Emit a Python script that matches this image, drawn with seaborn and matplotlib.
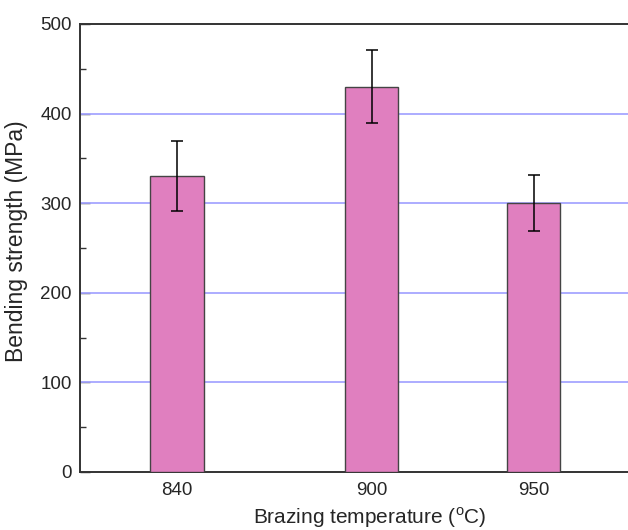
import numpy as np
import pandas as pd
import matplotlib
matplotlib.use('Agg')
import matplotlib.pyplot as plt
import seaborn as sns

# data
temps = [840, 900, 950]
strength = [330, 430, 300]
strength_err = [39, 41, 31]

df = pd.DataFrame({'Temp': temps, 'Strength': strength})

sns.set_style('white')
plt.rcParams['font.family'] = ['Liberation Sans', 'DejaVu Sans']
plt.rcParams['mathtext.fontset'] = 'custom'
plt.rcParams['mathtext.rm'] = 'Liberation Sans'

fig = plt.figure(figsize=(6.28, 5.30), dpi=100, facecolor='white')
# the plot frame runs past the right edge of the picture (cropped original)
ax = fig.add_axes([80 / 628, 58 / 530, 580 / 628, 448 / 530])

# bars at their real temperature (native scale), width 16 degC -> 0.32 of the 50 degC gap
sns.barplot(data=df, x='Temp', y='Strength', native_scale=True, width=0.33,
            color='#e07fbf', saturation=1, edgecolor='#444444', linewidth=1,
            errorbar=None, ax=ax, zorder=3)
ax.errorbar(temps, strength, yerr=strength_err, fmt='none', ecolor='black',
            elinewidth=1.1, capsize=4, capthick=1.1, zorder=4)

ax.set_xlim(810, 989)
ax.set_ylim(0, 500)
ax.set_xticks(temps)
ax.set_xticklabels([str(t) for t in temps])
ax.set_yticks([0, 100, 200, 300, 400, 500])
ax.set_yticks([50, 150, 250, 350, 450], minor=True)

# light blue grid at 100..400
for v in [100, 200, 300, 400]:
    ax.axhline(v, color='#a6a6ff', linewidth=1.3, zorder=1)

ax.tick_params(axis='y', which='major', direction='in', length=7, width=1,
               color='#333333', labelsize=13.5, pad=6, left=True)
ax.tick_params(axis='y', which='minor', direction='in', length=4, width=1,
               color='#333333', left=True)
ax.tick_params(axis='x', length=0, labelsize=13.5, pad=7)

for s in ['left', 'bottom', 'top']:
    ax.spines[s].set_color('#333333')
    ax.spines[s].set_linewidth(1.4)
ax.spines['right'].set_visible(False)

ax.set_xlabel('Brazing temperature ($^{\\mathrm{o}}$C)', fontsize=15, labelpad=5)
ax.set_ylabel('Bending strength (MPa)', fontsize=16.5, labelpad=8)
ax.yaxis.set_label_coords(-0.09, 0.516)

plt.savefig('out.png', dpi=100)
